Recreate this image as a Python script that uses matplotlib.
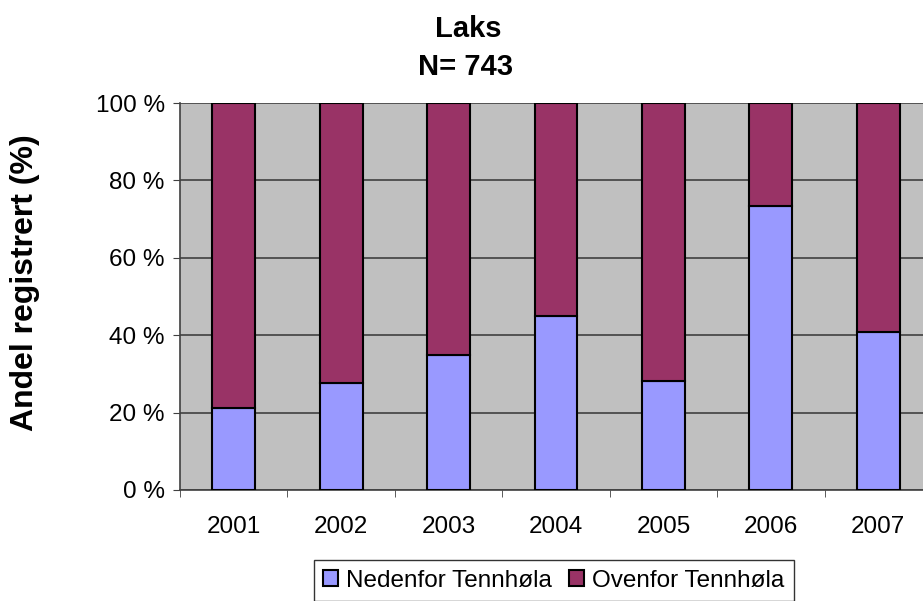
import numpy as np
import matplotlib.pyplot as plt

plt.rcParams['font.family'] = ['Liberation Sans', 'DejaVu Sans']

years = ['2001', '2002', '2003', '2004', '2005', '2006', '2007']
nedenfor = [21.2, 27.6, 34.9, 45.0, 28.2, 73.4, 40.8]
ovenfor = [100 - v for v in nedenfor]

blue = '#9999FF'
maroon = '#993366'

fig = plt.figure(figsize=(9.23, 6.01), dpi=100)
ax = fig.add_axes([180/923, 1 - 490/601, (932-180)/923, (490-103)/601])
ax.set_facecolor('#C0C0C0')

x = np.arange(len(years))
ax.bar(x, nedenfor, width=0.4, color=blue, edgecolor='black', linewidth=1.5,
       label='Nedenfor Tennhøla', zorder=3)
ax.bar(x, ovenfor, width=0.4, bottom=nedenfor, color=maroon, edgecolor='black',
       linewidth=1.5, label='Ovenfor Tennhøla', zorder=3)

ax.set_xlim(-0.5, len(years) - 0.5)
ax.set_ylim(0, 100)
ax.set_yticks(np.arange(0, 101, 20))
ax.set_yticklabels([f'{v} %' for v in range(0, 101, 20)], fontsize=17.5)
ax.set_xticks(x)
ax.set_xticklabels(years, fontsize=17.5)
ax.set_xticks(np.arange(-0.5, len(years), 1), minor=True)
ax.tick_params(axis='x', which='major', length=0, pad=19)
ax.tick_params(axis='x', which='minor', length=5, direction='out', color='#404040')
ax.tick_params(axis='y', length=5, direction='out', color='#404040', pad=6)
ax.grid(axis='y', color='#404040', linewidth=1.2, zorder=1)

for s in ['top', 'right']:
    ax.spines[s].set_visible(False)
for s in ['left', 'bottom']:
    ax.spines[s].set_color('#404040')
    ax.spines[s].set_linewidth(1.2)

fig.text(25/923, 1 - 283/601, 'Andel registrert (%)', rotation=90, ha='center', va='center',
         fontsize=23, fontweight='bold')
fig.text(468/923, 1 - 29/601, 'Laks', ha='center', va='center', fontsize=21, fontweight='bold')
fig.text(466/923, 1 - 67/601, 'N= 743', ha='center', va='center', fontsize=21, fontweight='bold')

leg = fig.legend(loc='upper center', bbox_to_anchor=(554/923, 1 - 560/601), ncol=2,
                 fontsize=17.5, frameon=True, fancybox=False, edgecolor='black',
                 handlelength=0.6, handleheight=0.6, handletextpad=0.35,
                 columnspacing=0.7, borderpad=0.4, borderaxespad=0)
leg.get_frame().set_linewidth(1.0)

fig.savefig('out.png', dpi=100)
